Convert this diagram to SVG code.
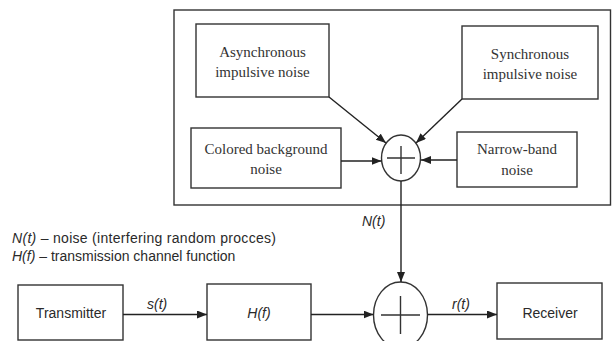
<svg xmlns="http://www.w3.org/2000/svg" width="613" height="341" viewBox="0 0 613 341">
<defs>
<marker id="ah" markerUnits="userSpaceOnUse" markerWidth="11" markerHeight="9" refX="10" refY="4" orient="auto"><path d="M0,0 L10,4 L0,8 z" fill="#222"/></marker>
<style>
.b{fill:#fff;stroke:#333;stroke-width:1.4}
.c{fill:none;stroke:#333;stroke-width:1.4}
.l{stroke:#222;stroke-width:1.4;fill:none}
.s{font-family:"Liberation Serif","Times New Roman",serif;font-size:15px;fill:#333;text-anchor:middle}
.a{font-family:"Liberation Sans",Arial,sans-serif;font-size:14px;fill:#2a2a2a}
.m{text-anchor:middle}
.i{font-style:italic}
</style>
</defs>
<rect width="613" height="341" fill="#fff"/>
<g id="noise-group"><rect class="b" x="174" y="10" width="436.5" height="195"/></g>
<g id="async"><rect class="b" x="196" y="24" width="133" height="73"/><text class="s" x="262.5" y="57">Asynchronous</text><text class="s" x="262.5" y="77">impulsive noise</text></g>
<g id="sync"><rect class="b" x="462" y="26" width="136" height="73"/><text class="s" x="530" y="59">Synchronous</text><text class="s" x="530" y="79">impulsive noise</text></g>
<g id="colored"><rect class="b" x="191" y="128" width="150" height="60"/><text class="s" x="266" y="154">Colored background</text><text class="s" x="266" y="174">noise</text></g>
<g id="narrow"><rect class="b" x="457" y="132" width="120" height="55"/><text class="s" x="517" y="154">Narrow-band</text><text class="s" x="517" y="175">noise</text></g>
<g id="sum1"><ellipse class="c" cx="401" cy="158" rx="19.5" ry="23"/><path class="c" d="M387,158 H415 M401,146 V174"/></g>
<g id="legend"><text class="a" x="12" y="243" textLength="264"><tspan class="i">N(t)</tspan> – noise (interfering random procces)</text><text class="a" x="12" y="261"><tspan class="i">H(f)</tspan> – transmission channel function</text></g>
<g id="transmitter"><rect class="b" x="18" y="285" width="105" height="55"/><text class="a m" x="71" y="318">Transmitter</text></g>
<g id="channel"><rect class="b" x="207" y="284" width="104" height="56"/><text class="a m i" x="259" y="318">H(f)</text></g>
<g id="sum2"><ellipse class="c" cx="400.5" cy="315" rx="27" ry="33"/><path class="c" d="M381,315 H420 M400.5,296 V334"/></g>
<g id="receiver"><rect class="b" x="497" y="283" width="105" height="56"/><text class="a m" x="550" y="318">Receiver</text></g>
<g id="connectors">
<line class="l" x1="329" y1="97" x2="386" y2="143" marker-end="url(#ah)"/>
<line class="l" x1="462" y1="99" x2="416" y2="143" marker-end="url(#ah)"/>
<line class="l" x1="341" y1="161" x2="381.5" y2="161" marker-end="url(#ah)"/>
<line class="l" x1="457" y1="160" x2="421" y2="160" marker-end="url(#ah)"/>
<line class="l" x1="401" y1="181" x2="401" y2="282" marker-end="url(#ah)"/>
<line class="l" x1="123" y1="314.5" x2="207" y2="314.5" marker-end="url(#ah)"/>
<line class="l" x1="311" y1="314.5" x2="373.5" y2="314.5" marker-end="url(#ah)"/>
<line class="l" x1="427.5" y1="314.5" x2="497" y2="314.5" marker-end="url(#ah)"/>
<text class="a i" x="362" y="226">N(t)</text>
<text class="a i" x="147" y="309">s(t)</text>
<text class="a i" x="452" y="309">r(t)</text>
</g>
</svg>
